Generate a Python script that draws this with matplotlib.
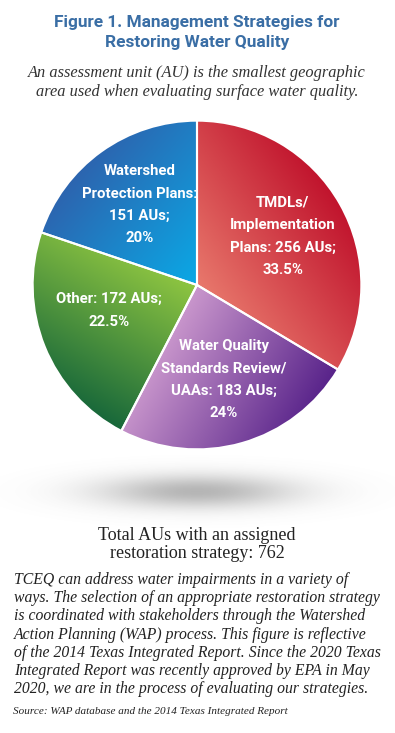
import numpy as np
import matplotlib
matplotlib.use("Agg")
import matplotlib.pyplot as plt
from matplotlib import font_manager as fm
from matplotlib.colors import LinearSegmentedColormap

# data
names = ["TMDLs/\nImplementation\nPlans", "Water Quality\nStandards Review/\nUAAs",
         "Other", "Watershed\nProtection Plans"]
name_sep = [" ", " ", " ", "\n"]
counts = [256, 183, 172, 151]
percents = ["33.5", "24", "22.5", "20"]
total = 762

title_lines = ["Figure 1. Management Strategies for", "Restoring Water Quality"]
subtitle_lines = ["An assessment unit (AU) is the smallest geographic",
                  "area used when evaluating surface water quality."]
total_lines = ["Total AUs with an assigned", f"restoration strategy: {total}"]
para_lines = [
    "TCEQ can address water impairments in a variety of",
    "ways. The selection of an appropriate restoration strategy",
    "is coordinated with stakeholders through the Watershed",
    "Action Planning (WAP) process. This figure is reflective",
    "of the 2014 Texas Integrated Report. Since the 2020 Texas",
    "Integrated Report was recently approved by EPA in May",
    "2020, we are in the process of evaluating our strategies.",
]
source = "Source: WAP database and the 2014 Texas Integrated Report"

# light -> dark gradient per slice, and gradient direction (deg)
grad_colors = [("#e8786c", "#c0122c"), ("#c996cc", "#58238a"),
               ("#8fc641", "#17673a"), ("#0aa9e6", "#2d63ae")]
grad_angles = [35, -30, -120, 140]

# plain bold sans, named outright
head_fp = fm.FontProperties(family=["Roboto", "DejaVu Sans"], weight="bold")
serif = ["Liberation Serif", "DejaVu Serif"]
W, H = 395, 733

fig = plt.figure(figsize=(W / 100, H / 100), dpi=100)
fig.patch.set_facecolor("white")
renderer = fig.canvas.get_renderer()


def fit_size(txt, size, target):
    # scale font size so the text gets the width it has in the original
    return size * target / txt.get_window_extent(renderer).width


# background axes in pixel coords for text + shadow
bg = fig.add_axes([0, 0, 1, 1])
bg.set_xlim(0, W)
bg.set_ylim(H, 0)
bg.axis("off")

# soft shadow under the pie
sx = np.linspace(-1.3, 1.3, 400)
sy = np.linspace(-1.6, 1.6, 120)
SX, SY = np.meshgrid(sx, sy)
alpha = 0.5 * np.exp(-2.6 * (SX**2 + SY**2))
shadow = np.zeros((len(sy), len(sx), 4))
shadow[..., :3] = 0.42
shadow[..., 3] = alpha
bg.imshow(shadow, extent=(197 - 1.3 * 158, 197 + 1.3 * 158, 492 + 1.6 * 27, 492 - 1.6 * 27),
          aspect="auto", interpolation="bilinear", zorder=0)

# title / subtitle
tt = [bg.text(197, y, txt, ha="center", va="center", fontproperties=head_fp, fontsize=12,
              color="#3a6ea5")
      for txt, y in zip(title_lines, [23, 43])]
ts = fit_size(tt[0], 12, 285)
for t in tt:
    t.set_fontsize(ts)
for txt, y in zip(subtitle_lines, [73, 92]):
    bg.text(197, y, txt, ha="center", va="center", fontsize=11.8, style="italic",
            color="#333333", family=serif)

# pie
cx, cy, r = 197, 285, 166
ax = fig.add_axes([(cx - r) / W, (H - cy - r) / H, 2 * r / W, 2 * r / H])
labels = [f"{n}:{s}{c} AUs;\n{p}%" for n, s, c, p in zip(names, name_sep, counts, percents)]
wedges, texts = ax.pie(counts, labels=labels, startangle=90, counterclock=False,
                       labeldistance=0.6, radius=1,
                       wedgeprops=dict(edgecolor="white", linewidth=1.5))

gx = np.linspace(-1, 1, 400)
GX, GY = np.meshgrid(gx, gx)
for w, (c0, c1), ang in zip(wedges, grad_colors, grad_angles):
    d = np.array([np.cos(np.radians(ang)), np.sin(np.radians(ang))])
    proj = w.get_path().vertices @ d
    lo, hi = proj.min(), proj.max()
    t = np.clip((GX * d[0] + GY * d[1] - lo) / (hi - lo), 0, 1)
    cmap = LinearSegmentedColormap.from_list("g", [c0, c1])
    im = ax.imshow(t, cmap=cmap, extent=(-1, 1, -1, 1), origin="lower", zorder=0.5,
                   interpolation="bilinear")
    im.set_clip_path(w)
    w.set_facecolor("none")

for t in texts:
    t.set_fontproperties(head_fp)
    t.set_fontsize(11)
    t.set_color("white")
    t.set_ha("center")
    t.set_va("center")
    t.set_zorder(3)
ls = fit_size(texts[3], 11, 116)
for t in texts:
    t.set_fontsize(ls)
    t.set_linespacing(19.5 / (0.74 * ls * 100 / 72))
# "Other" label sits a bit higher in the original
x, y = texts[2].get_position()
texts[2].set_position((x + 0.02, y + 0.07))

ax.set_xlim(-1.01, 1.01)
ax.set_ylim(-1.01, 1.01)
ax.axis("off")

# total
for txt, y in zip(total_lines, [536, 554]):
    bg.text(197, y, txt, ha="center", va="center", fontsize=13, color="#222222", family=serif)

# paragraph
for i, txt in enumerate(para_lines):
    bg.text(14, 580 + i * 18.2, txt, ha="left", va="center", fontsize=11.3, style="italic",
            color="#222222", family=serif)

bg.text(13, 712, source, ha="left", va="center", fontsize=8, style="italic",
        color="#222222", family=serif)

fig.savefig("out.png", dpi=100, facecolor="white")
